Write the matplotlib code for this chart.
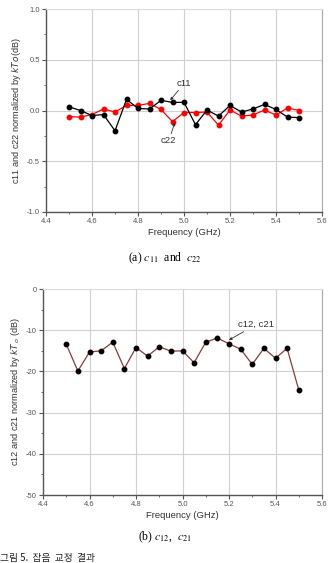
import matplotlib
matplotlib.use("Agg")
import matplotlib.pyplot as plt
from matplotlib.ticker import MultipleLocator

freq = [4.50, 4.55, 4.60, 4.65, 4.70, 4.75, 4.80, 4.85, 4.90, 4.95, 5.00,
        5.05, 5.10, 5.15, 5.20, 5.25, 5.30, 5.35, 5.40, 5.45, 5.50]
c11 = [0.036, 0.0, -0.05, -0.04, -0.20, 0.11, 0.02, 0.015, 0.10, 0.08, 0.08,
       -0.14, 0.005, -0.055, 0.05, -0.015, 0.015, 0.06, 0.01, -0.065, -0.07]
c22 = [-0.06, -0.065, -0.04, 0.015, -0.015, 0.05, 0.05, 0.07, 0.01, -0.11, -0.02,
       -0.02, -0.015, -0.145, 0.005, -0.055, -0.045, 0.005, -0.045, 0.025, 0.0]
c12 = [-13.4, -19.9, -15.3, -15.0, -12.9, -19.3, -14.2, -16.3, -14.0, -15.1, -15.0,
       -17.9, -12.9, -11.9, -13.3, -14.6, -18.3, -14.4, -16.8, -14.4, -24.5]

xticks = [4.4, 4.6, 4.8, 5.0, 5.2, 5.4, 5.6]

plt.rcParams['font.family'] = ['Liberation Sans', 'DejaVu Sans']
plt.rcParams['mathtext.fontset'] = 'stix'

W, H = 330, 563
fig = plt.figure(figsize=(W / 100, H / 100), dpi=100)

def style(ax, ymin, ymax, ystep, yfmt):
    ax.set_xlim(4.4, 5.6)
    ax.set_ylim(ymin, ymax)
    ax.set_xticks(xticks)
    ax.set_xticklabels([f"{v:.1f}" for v in xticks])
    ax.yaxis.set_major_locator(MultipleLocator(ystep))
    ax.yaxis.set_minor_locator(MultipleLocator(ystep / 2))
    ax.xaxis.set_minor_locator(MultipleLocator(0.1))
    ax.yaxis.set_major_formatter(matplotlib.ticker.FuncFormatter(yfmt))
    ax.grid(True, which='major', color='#d0d0d0', linewidth=0.8)
    ax.set_axisbelow(True)
    for s in ['left', 'bottom']:
        ax.spines[s].set_color('#555555')
        ax.spines[s].set_linewidth(1.0)
    ax.spines['right'].set_color('#aaaaaa')
    ax.spines['top'].set_color('#dddddd')
    ax.tick_params(which='major', direction='out', length=3, width=0.8,
                   labelsize=5.5, colors='#555555', pad=1.5, top=False, right=False)
    ax.tick_params(which='minor', direction='out', length=1.5, width=0.6,
                   colors='#555555', top=False, right=False)
    ax.set_xlabel("Frequency (GHz)", fontsize=6.8, color='#333333', labelpad=2)

# Top panel
ax1 = fig.add_axes([46 / W, 1 - 212 / H, (322 - 46) / W, (212 - 9) / H])
style(ax1, -1.0, 1.0, 0.5, lambda v, p: f"{v:.1f}")
ax1.plot(freq, c22, color='red', marker='o', markersize=3.2, linewidth=0.9, zorder=3)
ax1.plot(freq, c11, color='black', marker='o', markersize=3.2, linewidth=0.9, zorder=4)
ax1.set_ylabel(r"c11 and c22 normalized by $\mathit{kTo}$(dB)", fontsize=6.6,
               color='#333333', labelpad=3)
ax1.yaxis.label.set_math_fontfamily('dejavusans')
ax1.annotate("c11", xy=(4.94, 0.10), xytext=(4.97, 0.27), fontsize=6.8,
             color='#333333', ha='left', va='center',
             arrowprops=dict(arrowstyle='-|>', color='#333333', lw=0.6,
                             mutation_scale=4, shrinkA=0, shrinkB=0),
             )
ax1.annotate("c22", xy=(4.96, -0.12), xytext=(4.90, -0.30), fontsize=6.8,
             color='#333333', ha='left', va='center',
             arrowprops=dict(arrowstyle='-|>', color='#333333', lw=0.6,
                             mutation_scale=4, shrinkA=0, shrinkB=0))

# Bottom panel
ax2 = fig.add_axes([43 / W, 1 - 495 / H, (322 - 43) / W, (495 - 289) / H])
style(ax2, -50, 0, 10, lambda v, p: f"{int(v)}")
ax2.plot(freq, c12, color='#8b3a3a', linewidth=0.9, marker='o', markersize=3.2,
         markerfacecolor='black', markeredgecolor='black', zorder=3)
ax2.set_ylabel(r"c12 and c21 normalized by $kT_{\,o}$ (dB)", fontsize=6.6,
               color='#333333', labelpad=3)
ax2.yaxis.label.set_math_fontfamily('dejavusans')
ax2.annotate("c12, c21", xy=(5.20, -12.4), xytext=(5.24, -8.6), fontsize=6.8,
             color='#333333', ha='left', va='center',
             arrowprops=dict(arrowstyle='-|>', color='#333333', lw=0.6,
                             mutation_scale=4, shrinkA=0, shrinkB=0))

# Captions
fig.text(165 / W, 1 - 258 / H, r"(a) $c_{11}$  and  $c_{22}$", ha='center', va='center',
         fontsize=8.5, family='Liberation Serif')
fig.text(165 / W, 1 - 537 / H, r"(b) $c_{12}$,  $c_{21}$", ha='center', va='center',
         fontsize=8.5, family='Liberation Serif')
fig.text(0 / W, 1 - 553 / H, "그림 5.  잡음  교정  결과", ha='left', va='top',
         fontsize=7.0, family=['Noto Sans CJK KR', 'DejaVu Sans'], color='#222222')

fig.savefig("out.png", dpi=100)
